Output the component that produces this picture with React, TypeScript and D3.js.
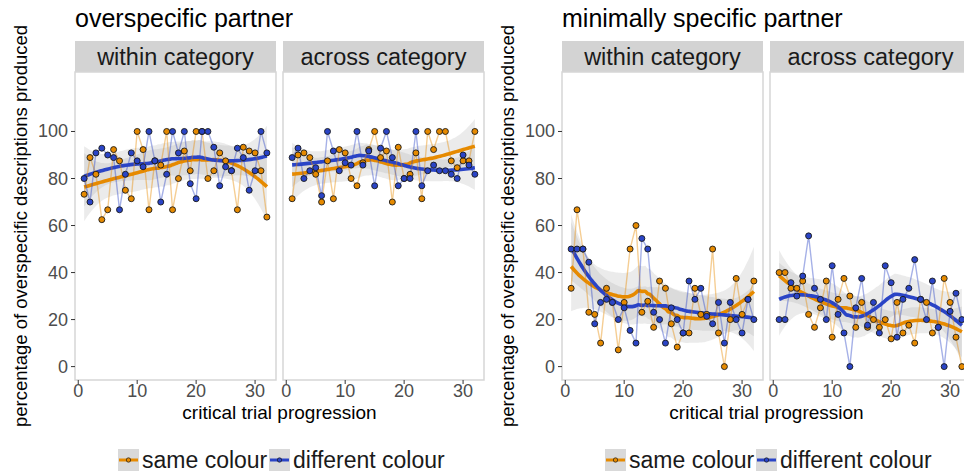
import React from "react";
import * as d3 from "d3";

// ---- data -------------------------------------------------------------
const trials = d3.range(1, 33);
const seriesNames = ["same colour", "different colour"];
const conditionLabels = ["within category", "across category"];
const partnerLabels = ["overspecific partner", "minimally specific partner"];
const yTicks = [0, 20, 40, 60, 80, 100];
const xTicks = [0, 10, 20, 30];

// overspecific partner, within category
const overWithinSame = [73.3, 88.9, 81.8, 62.5, 66.7, 92.3, 87.5, 75, 71.4, 100, 92.3, 66.7, 87.5, 85.7, 100, 66.7, 80, 91.7, 83.3, 100, 100, 80, 83.3, 90.9, 87.5, 83.3, 66.7, 93.3, 91.7, 90.9, 83.3, 63.6];
const overWithinDiff = [80, 70, 90.9, 92.9, 90, 88.9, 66.7, 81.8, 90.9, 87.5, 85, 100, 87.5, 70, 81.8, 100, 90.9, 100, 77.8, 71.4, 100, 100, 93.3, 76.9, 85, 83.3, 92.9, 88.9, 75, 83.3, 100, 90.9];
// overspecific partner, across category
const overAcrossSame = [71.4, 90, 90.9, 88.9, 81.8, 70, 87.5, 71.4, 92.3, 90.9, 80, 76.9, 86.7, 92.3, 100, 88.9, 91.7, 70, 93.3, 80, 81.8, 90.9, 71.4, 100, 92.3, 100, 100, 87.5, 84.6, 87.5, 87.5, 100];
const overAcrossDiff = [88.9, 92.9, 80, 83.3, 84.6, 72.7, 100, 91.7, 83.3, 86.7, 85.7, 100, 85.7, 91.7, 76.9, 92.9, 100, 88.9, 76.9, 80, 80, 100, 76.9, 83.3, 85.7, 83.3, 83.3, 81.8, 80, 90, 85.7, 81.8];
// minimally specific partner, within category
const minWithinSame = [33.3, 66.7, 50, 23.1, 22.2, 10, 33.3, 27.3, 7.1, 27.3, 50, 60, 23.1, 27.8, 16.7, 36.4, 33.3, 18.2, 8.3, 14.3, 14.3, 33.3, 22.2, 22.2, 50, 14.3, 0, 20, 37.5, 22.2, 28.6, 36.4];
const minWithinDiff = [50, 50, 50, 44.4, 18.2, 27.3, 28.6, 27.3, 20, 25, 15.4, 10, 54.5, 50, 23.1, 20, 10, 25, 20, 14.3, 36.4, 28.6, 33.3, 21.4, 18.2, 27.3, 10, 27.3, 20, 14.3, 28.6, 20];
// minimally specific partner, across category
const minAcrossSame = [40, 40, 33.3, 33.3, 36.4, 22.2, 16.7, 25, 36.4, 12.5, 28.6, 37.5, 30, 16.7, 27.3, 16.7, 20, 16.7, 20, 11.8, 27.3, 14.3, 17.6, 10, 28.6, 27.3, 14.3, 16.7, 37.5, 27.3, 12.5, 0];
const minAcrossDiff = [20, 20, 35.7, 30, 38.5, 55.6, 33.3, 28.6, 20, 42.9, 22.2, 14.3, 0, 25, 37.5, 17.6, 27.3, 14.3, 42.9, 35.7, 12.5, 28.6, 33.3, 45.5, 28.6, 20, 36.4, 16.7, 0, 23.5, 31.2, 20];

// ---- style / layout ---------------------------------------------------
const W = 964;
const H = 472;
const FONT = "'Liberation Sans', Arial, Helvetica, sans-serif";
const COLORS = ["#E68A00", "#2A44C6"];
const PANEL_W = 201;
const PANEL_GAP = 7;
const PANEL_TOP = 72;
const PANEL_BOTTOM = 380;
const STRIP_H = 31;
const GROUP_LEFT = [75, 562];

// ---- loess (degree 2, tricube weights) with pointwise standard errors --
function loessRow(xs: number[], x0: number, span: number): number[] {
  const n = xs.length;
  const q = Math.min(n, Math.floor(n * span));
  const d = xs.map((x) => Math.abs(x - x0));
  const h = [...d].sort((a, b) => a - b)[q - 1] * (span > 1 ? Math.sqrt(span) : 1);
  const w = d.map((di) => {
    const u = di / h;
    return u < 1 ? Math.pow(1 - u * u * u, 3) : 0;
  });
  // weighted normal equations for basis [1, dx, dx^2]
  const S = [[0, 0, 0], [0, 0, 0], [0, 0, 0]];
  for (let i = 0; i < n; i++) {
    const dx = xs[i] - x0;
    const b = [1, dx, dx * dx];
    for (let r = 0; r < 3; r++) for (let c = 0; c < 3; c++) S[r][c] += w[i] * b[r] * b[c];
  }
  const inv = invert3(S);
  return xs.map((x, i) => {
    const dx = x - x0;
    return w[i] * (inv[0][0] + inv[0][1] * dx + inv[0][2] * dx * dx);
  });
}

function invert3(m: number[][]): number[][] {
  const [a, b, c] = m[0];
  const [d, e, f] = m[1];
  const [g, h, k] = m[2];
  const A = e * k - f * h, B = -(d * k - f * g), C = d * h - e * g;
  const det = a * A + b * B + c * C;
  return [
    [A / det, -(b * k - c * h) / det, (b * f - c * e) / det],
    [B / det, (a * k - c * g) / det, -(a * f - c * d) / det],
    [C / det, -(a * h - b * g) / det, (a * e - b * d) / det],
  ];
}

function tQuantile975(df: number): number {
  const z = 1.959964;
  return z + (z ** 3 + z) / (4 * df) + (5 * z ** 5 + 16 * z ** 3 + 3 * z) / (96 * df * df);
}

type SmoothPt = { x: number; fit: number; lo: number; hi: number };

function smooth(xs: number[], ys: number[], span = 0.75): SmoothPt[] {
  const n = xs.length;
  const L = xs.map((x) => loessRow(xs, x, span));
  const IL = L.map((row, i) => row.map((v, j) => (i === j ? 1 : 0) - v));
  const resid = IL.map((row) => d3.sum(row, (v, j) => v * ys[j]));
  // M = (I-L)^T (I-L)
  const M = d3.range(n).map((i) => d3.range(n).map((j) => d3.sum(IL, (row) => row[i] * row[j])));
  const delta1 = d3.sum(d3.range(n), (i) => M[i][i]);
  const delta2 = d3.sum(M, (row) => d3.sum(row, (v) => v * v));
  const sigma = Math.sqrt(d3.sum(resid, (r) => r * r) / delta1);
  const t = tQuantile975((delta1 * delta1) / delta2);
  const grid = d3.range(80).map((i) => xs[0] + ((xs[n - 1] - xs[0]) * i) / 79);
  return grid.map((x0) => {
    const l = loessRow(xs, x0, span);
    const fit = d3.sum(l, (v, j) => v * ys[j]);
    const se = sigma * Math.sqrt(d3.sum(l, (v) => v * v));
    return { x: x0, fit, lo: fit - t * se, hi: fit + t * se };
  });
}

// ---- panels -----------------------------------------------------------
type PanelSpec = { key: string; left: number; label: string; series: number[][] };

const groups = [
  {
    title: partnerLabels[0],
    left: GROUP_LEFT[0],
    panels: [
      { label: conditionLabels[0], series: [overWithinSame, overWithinDiff] },
      { label: conditionLabels[1], series: [overAcrossSame, overAcrossDiff] },
    ],
  },
  {
    title: partnerLabels[1],
    left: GROUP_LEFT[1],
    panels: [
      { label: conditionLabels[0], series: [minWithinSame, minWithinDiff] },
      { label: conditionLabels[1], series: [minAcrossSame, minAcrossDiff] },
    ],
  },
];

const yScale = d3.scaleLinear().domain([-5.7, 125.3]).range([PANEL_BOTTOM, PANEL_TOP]);

function Panel({ spec }: { spec: PanelSpec }) {
  const x = d3.scaleLinear().domain([-0.55, 33.55]).range([spec.left, spec.left + PANEL_W]);
  const fits = spec.series.map((ys) => smooth(trials, ys));
  const band = d3
    .area<SmoothPt>()
    .x((d) => x(d.x))
    .y0((d) => yScale(d.lo))
    .y1((d) => yScale(d.hi))
    .curve(d3.curveMonotoneX);
  const fitLine = d3
    .line<SmoothPt>()
    .x((d) => x(d.x))
    .y((d) => yScale(d.fit))
    .curve(d3.curveMonotoneX);
  const raw = d3
    .line<number>()
    .x((_, i) => x(trials[i]))
    .y((v) => yScale(v));
  const clipId = `clip-${spec.key}`;
  return (
    <g>
      <defs>
        <clipPath id={clipId}>
          <rect x={spec.left} y={PANEL_TOP} width={PANEL_W} height={PANEL_BOTTOM - PANEL_TOP} />
        </clipPath>
      </defs>
      {/* strip */}
      <rect x={spec.left} y={PANEL_TOP - STRIP_H} width={PANEL_W} height={STRIP_H} fill="#d3d3d3" />
      <text
        x={spec.left + PANEL_W / 2}
        y={PANEL_TOP - STRIP_H / 2 + 8}
        textAnchor="middle"
        fontSize={23.5}
        fill="#1a1a1a"
      >
        {spec.label}
      </text>
      <rect x={spec.left} y={PANEL_TOP} width={PANEL_W} height={PANEL_BOTTOM - PANEL_TOP} fill="#fff" />
      <g clipPath={`url(#${clipId})`}>
        {fits.map((f, s) => (
          <path key={`b${s}`} d={band(f) ?? ""} fill="#999999" fillOpacity={0.2} />
        ))}
        {fits.map((f, s) => (
          <path key={`f${s}`} d={fitLine(f) ?? ""} fill="none" stroke={COLORS[s]} strokeWidth={3.6} />
        ))}
        {spec.series.map((ys, s) => (
          <path
            key={`r${s}`}
            d={raw(ys) ?? ""}
            fill="none"
            stroke={COLORS[s]}
            strokeOpacity={0.42}
            strokeWidth={1.4}
          />
        ))}
        {spec.series.map((ys, s) =>
          ys.map((v, i) => (
            <circle
              key={`p${s}-${i}`}
              cx={x(trials[i])}
              cy={yScale(v)}
              r={3}
              fill={COLORS[s]}
              stroke="#1a1a1a"
              strokeWidth={0.9}
            />
          ))
        )}
      </g>
      <rect
        x={spec.left}
        y={PANEL_TOP}
        width={PANEL_W}
        height={PANEL_BOTTOM - PANEL_TOP}
        fill="none"
        stroke="#d6d6d6"
        strokeWidth={1.5}
      />
      {/* x axis */}
      {xTicks.map((t) => (
        <g key={t}>
          <line x1={x(t)} x2={x(t)} y1={PANEL_BOTTOM} y2={PANEL_BOTTOM + 4} stroke="#333" strokeWidth={1} />
          <text x={x(t)} y={PANEL_BOTTOM + 17} textAnchor="middle" fontSize={18} fill="#4d4d4d">
            {t}
          </text>
        </g>
      ))}
    </g>
  );
}

function Legend({ x0, textX }: { x0: number[]; textX: number[] }) {
  return (
    <g>
      {seriesNames.map((name, s) => (
        <g key={name}>
          <rect x={x0[s]} y={449} width={21} height={22} fill="#d9d9d9" />
          <line x1={x0[s] + 1} x2={x0[s] + 20} y1={460} y2={460} stroke={COLORS[s]} strokeWidth={3} />
          <circle cx={x0[s] + 10.5} cy={460} r={2.2} fill={COLORS[s]} stroke="#1a1a1a" strokeWidth={0.7} />
          <text x={textX[s]} y={468} fontSize={23} fill="#1a1a1a">
            {name}
          </text>
        </g>
      ))}
    </g>
  );
}

export default function App() {
  return (
    <svg
      width={W}
      height={H}
      viewBox={`0 0 ${W} ${H}`}
      style={{ position: "absolute", left: 0, top: 0, background: "#fff", fontFamily: FONT }}
    >
      <rect x={0} y={0} width={W} height={H} fill="#fff" />
      {groups.map((g, gi) => {
        const lefts = [g.left, g.left + PANEL_W + PANEL_GAP];
        const mid = (lefts[0] + lefts[1] + PANEL_W) / 2;
        return (
          <g key={gi}>
            <text x={g.left} y={27} fontSize={25} fill="#000">
              {g.title}
            </text>
            {g.panels.map((p, pi) => (
              <Panel key={pi} spec={{ key: `${gi}-${pi}`, left: lefts[pi], label: p.label, series: p.series }} />
            ))}
            {/* y axis on the first panel of each group */}
            {yTicks.map((t) => (
              <g key={t}>
                <line x1={g.left - 4} x2={g.left} y1={yScale(t)} y2={yScale(t)} stroke="#333" strokeWidth={1} />
                <text x={g.left - 7} y={yScale(t) + 6} textAnchor="end" fontSize={18} fill="#4d4d4d">
                  {t}
                </text>
              </g>
            ))}
            <text
              transform={`translate(${g.left - 48},${(PANEL_TOP + PANEL_BOTTOM) / 2}) rotate(-90)`}
              textAnchor="middle"
              fontSize={18.5}
              fill="#000"
            >
              percentage of overspecific descriptions produced
            </text>
            <text x={mid} y={419} textAnchor="middle" fontSize={19} fill="#000">
              critical trial progression
            </text>
          </g>
        );
      })}
      <Legend x0={[118, 269]} textX={[142, 293]} />
      <Legend x0={[605, 756]} textX={[629, 780]} />
    </svg>
  );
}
